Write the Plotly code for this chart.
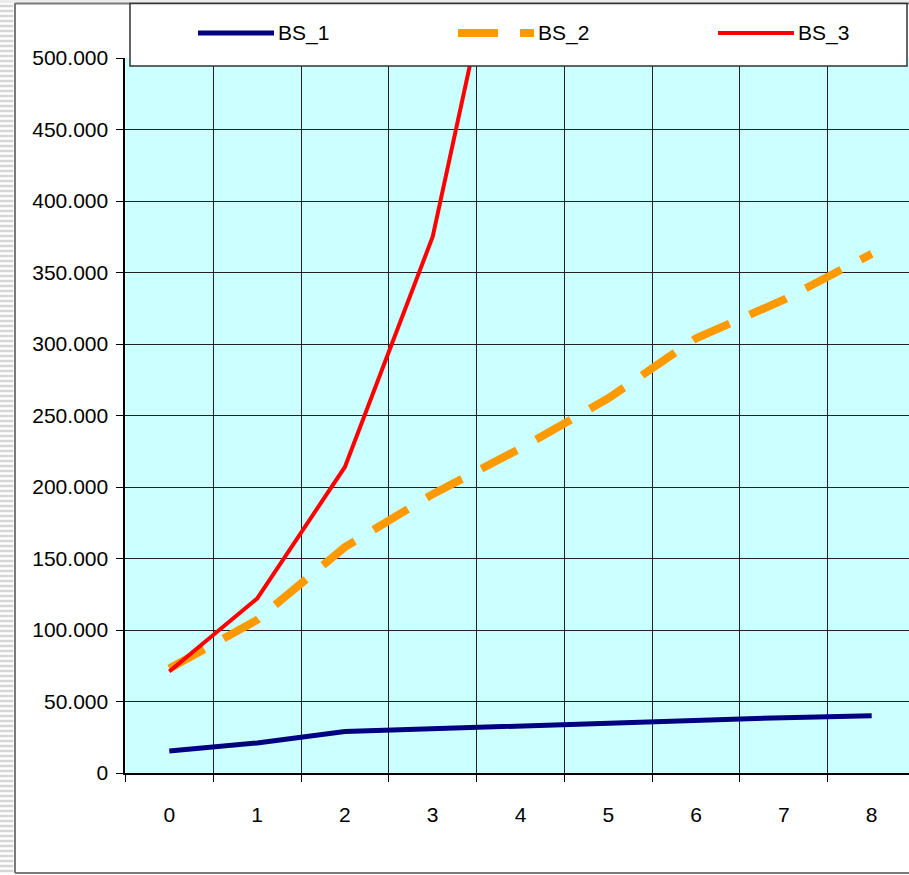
import plotly.graph_objects as go

# ---- data -------------------------------------------------------------
categories = ["0", "1", "2", "3", "4", "5", "6", "7", "8"]
series_names = ["BS_1", "BS_2", "BS_3"]
bs_1 = [15400, 21000, 29000, 31000, 33000, 35000, 37000, 38700, 40000]
bs_2 = [73000, 107000, 158000, 195000, 227000, 262000, 304000, 331000, 363000]
# BS_3 leaves the 500.000 scale after period 4
bs_3 = [71000, 122000, 214000, 375000, 658000]

colors = ["#000080", "#FF9900", "#FF0000"]
widths = [5, 8, 4]
dashes = ["solid", "40px,22px", "solid"]

# ---- geometry (pixels) -----------------------------------------------
W, H = 909, 875
PLOT_L, PLOT_R, PLOT_T, PLOT_B = 125.4, 909, 58, 773
FONT = "Liberation Sans, Arial, sans-serif"


def px(x):
    return x / W


def py(y):
    return 1 - y / H


fig = go.Figure()
for name, ys, c, w, d in zip(series_names, [bs_1, bs_2, bs_3], colors, widths, dashes):
    fig.add_trace(go.Scatter(
        x=categories[:len(ys)], y=ys, mode="lines", name=name,
        line=dict(color=c, width=w, dash=d), showlegend=False,
    ))

shapes = []

# striped slide edge on the far left
stripe_path = "".join(
    f"M0,{py(y):.5f}L{px(13.5):.5f},{py(y):.5f}" for y in range(1, H, 5)
)
shapes.append(dict(type="path", path=stripe_path, xref="paper", yref="paper",
                   line=dict(color="#d6d6d6", width=2.5), layer="above"))
# light strip above the chart frame
shapes.append(dict(type="rect", xref="paper", yref="paper",
                   x0=0, x1=1, y0=py(0), y1=py(3),
                   fillcolor="#ececec", line=dict(width=0), layer="above"))
# chart frame
frame = dict(color="#7a7a7a", width=2)
shapes.append(dict(type="line", xref="paper", yref="paper",
                   x0=px(15), x1=px(15), y0=py(3), y1=py(873), line=frame, layer="above"))
shapes.append(dict(type="line", xref="paper", yref="paper",
                   x0=px(15), x1=1, y0=py(3.5), y1=py(3.5), line=frame, layer="above"))
shapes.append(dict(type="line", xref="paper", yref="paper",
                   x0=px(15), x1=1, y0=py(873), y1=py(873), line=frame, layer="above"))

# legend box
shapes.append(dict(type="rect", xref="paper", yref="paper",
                   x0=px(130), x1=px(907), y0=py(66), y1=py(3.5),
                   fillcolor="white", line=dict(color="#333333", width=1.5),
                   layer="above"))

annotations = []
LEG_X0, LEG_STEP, LEG_LEN, LEG_Y = 198, 260, 76, 33
for i, (name, c, w, d) in enumerate(zip(series_names, colors, widths, dashes)):
    x0 = LEG_X0 + i * LEG_STEP
    shapes.append(dict(type="line", xref="paper", yref="paper",
                       x0=px(x0), x1=px(x0 + LEG_LEN), y0=py(LEG_Y), y1=py(LEG_Y),
                       line=dict(color=c, width=w, dash=d), layer="above"))
    annotations.append(dict(text=name, xref="paper", yref="paper",
                            x=px(x0 + LEG_LEN + 2), y=py(LEG_Y),
                            xanchor="left", yanchor="middle", showarrow=False,
                            font=dict(family=FONT, size=21, color="black")))

axis_common = dict(
    showgrid=True, gridcolor="#222222", gridwidth=1,
    ticks="outside", ticklen=7, tickcolor="black", tickwidth=1,
    showline=True, linecolor="black", linewidth=2,
    tickfont=dict(family=FONT, size=21, color="black"),
    zeroline=False, fixedrange=True,
)

fig.update_layout(
    width=W, height=H,
    margin=dict(l=0, r=0, t=0, b=0, autoexpand=False),
    paper_bgcolor="white",
    plot_bgcolor="#CCFFFF",
    separators=",.",
    xaxis=dict(
        type="category", categoryorder="array", categoryarray=categories,
        range=[-0.5, 8.425], domain=[px(PLOT_L), 1],
        tickson="boundaries", ticklabelstandoff=22, **axis_common,
    ),
    yaxis=dict(
        range=[0, 500000], dtick=50000, tickformat=",d",
        domain=[py(PLOT_B), py(PLOT_T)], ticklabelstandoff=4, **axis_common,
    ),
    shapes=shapes,
    annotations=annotations,
    showlegend=False,
)

fig.write_html("out.html")
